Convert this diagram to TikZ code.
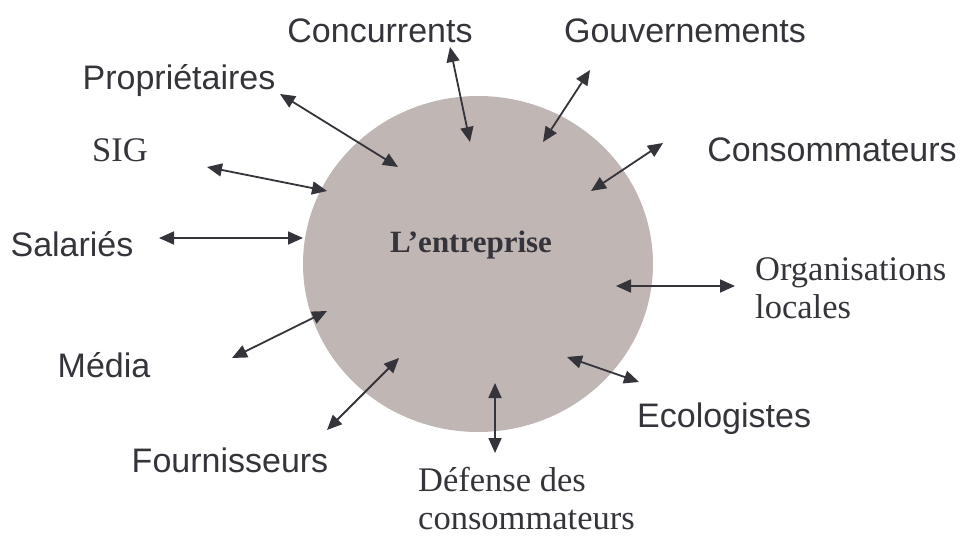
\documentclass[tikz,border=0pt]{standalone}
\usepackage{fontspec}
\setmainfont{Liberation Serif}
\setsansfont{Liberation Sans}
\usetikzlibrary{arrows.meta,positioning,shapes.geometric}
\definecolor{ink}{RGB}{52,52,58}
\definecolor{firmgray}{RGB}{192,182,180}

\begin{document}
\begin{tikzpicture}[x=1pt,y=-1pt]

	\tikzstyle{actor} = [inner sep=0pt, text=ink, anchor=base,
		font=\sffamily\fontsize{34}{40}\selectfont]
	\tikzstyle{actor_serif} = [actor, font=\rmfamily\fontsize{34.5}{38}\selectfont]
	\tikzstyle{line} = [draw=ink, line width=1.8pt,
		{Triangle[length=15pt,width=13pt]}-{Triangle[length=15pt,width=13pt]}]

	\useasboundingbox (0,0) rectangle (963,537);

	\node[ellipse, fill=firmgray, inner sep=0pt,
		minimum width=350pt, minimum height=336pt] (firm) at (478,264) {};
	\node[inner sep=0pt, anchor=base, text=ink,
		font=\rmfamily\bfseries\fontsize{31}{36}\selectfont] (firm_label) at (471,253) {L’entreprise};

	% stakeholders
	\node[actor] (concurrents) at (380,43) {Concurrents};
	\node[actor] (gouvernements) at (685,43) {Gouvernements};
	\node[actor] (proprietaires) at (179,90) {Propriétaires};
	\node[actor_serif] (sig) at (120,162) {SIG};
	\node[actor] (consommateurs) at (832,162) {Consommateurs};
	\node[actor] (salaries) at (72,257) {Salariés};
	\node[actor_serif, anchor=base west, align=left] (organisations) at (755,318) {Organisations\\locales};
	\node[actor] (media) at (104,377) {Média};
	\node[actor, anchor=base west] (ecologistes) at (637,427) {Ecologistes};
	\node[actor] (fournisseurs) at (230,472) {Fournisseurs};
	\node[actor_serif, anchor=base west, align=left] (defense) at (418,529) {Défense des\\consommateurs};

	% arrow ends
	\coordinate (conc_out) at (450,47);   \coordinate (conc_in) at (470,142);
	\coordinate (gouv_out) at (590,70);   \coordinate (gouv_in) at (543,142);
	\coordinate (prop_out) at (280,94);   \coordinate (prop_in) at (398,167);
	\coordinate (sig_out) at (207,167);   \coordinate (sig_in) at (327,191);
	\coordinate (cons_out) at (663,143);  \coordinate (cons_in) at (591,191);
	\coordinate (sal_out) at (159,238);   \coordinate (sal_in) at (303,238);
	\coordinate (org_out) at (735,286);   \coordinate (org_in) at (616,286);
	\coordinate (media_out) at (232,358); \coordinate (media_in) at (327,311);
	\coordinate (eco_out) at (639,382);   \coordinate (eco_in) at (567,357);
	\coordinate (four_out) at (327,430);  \coordinate (four_in) at (399,358);
	\coordinate (def_out) at (495,453);   \coordinate (def_in) at (495,383);

	\draw[line] (conc_out) -- (conc_in);
	\draw[line] (gouv_out) -- (gouv_in);
	\draw[line] (prop_out) -- (prop_in);
	\draw[line] (sig_out) -- (sig_in);
	\draw[line] (cons_out) -- (cons_in);
	\draw[line] (sal_out) -- (sal_in);
	\draw[line] (org_out) -- (org_in);
	\draw[line] (media_out) -- (media_in);
	\draw[line] (eco_out) -- (eco_in);
	\draw[line] (four_out) -- (four_in);
	\draw[line] (def_out) -- (def_in);

\end{tikzpicture}
\end{document}
